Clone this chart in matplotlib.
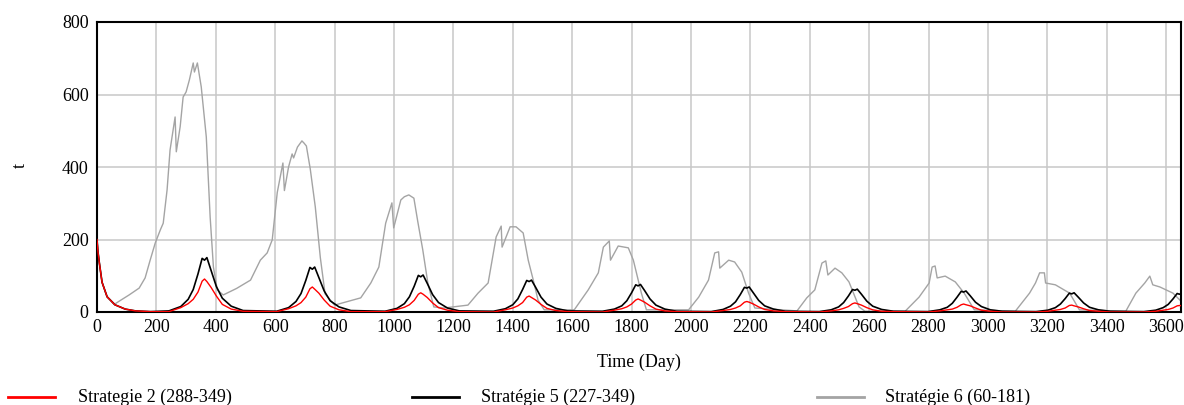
import matplotlib
matplotlib.use("Agg")
import matplotlib.pyplot as plt
from matplotlib.lines import Line2D

plt.rcParams["font.family"] = ["Liberation Serif", "DejaVu Serif"]

# Strategy 2 (288-349)
s2_days = [0, 3, 8, 17, 34, 60, 95, 130, 180,
           242, 282, 307, 324, 340, 354, 362, 370, 384, 402, 422, 452, 492,
           605, 645, 670, 687, 703, 717, 725, 733, 747, 765, 785, 815, 855,
           970, 1010, 1035, 1052, 1068, 1082, 1090, 1098, 1112, 1130, 1150, 1180, 1220,
           1335, 1375, 1400, 1417, 1433, 1447, 1455, 1463, 1477, 1495, 1515, 1545, 1585,
           1702, 1742, 1767, 1784, 1800, 1814, 1822, 1830, 1844, 1862, 1882, 1912, 1952,
           2068, 2108, 2133, 2150, 2166, 2180, 2188, 2196, 2210, 2228, 2248, 2278, 2318,
           2432, 2472, 2497, 2514, 2530, 2544, 2552, 2560, 2574, 2592, 2612, 2642, 2682,
           2798, 2838, 2863, 2880, 2896, 2910, 2918, 2926, 2940, 2958, 2978, 3008, 3048,
           3162, 3202, 3227, 3244, 3260, 3274, 3282, 3290, 3304, 3322, 3342, 3372, 3412,
           3525, 3565, 3590, 3607, 3623, 3637, 3645, 3653]
s2_vals = [200, 168, 135, 82, 42, 20, 8, 3, 1,
           1, 12, 23, 35, 55, 85, 91, 84, 68, 44, 21, 8, 2,
           1, 9, 17, 26, 41, 64, 69, 63, 52, 33, 16, 6, 1,
           1, 7, 13, 20, 32, 49, 53, 49, 40, 25, 12, 5, 1,
           0, 6, 11, 17, 26, 41, 44, 40, 33, 21, 10, 4, 1,
           0, 5, 9, 14, 22, 33, 36, 33, 27, 17, 8, 3, 1,
           0, 4, 7, 11, 17, 27, 29, 27, 22, 14, 7, 3, 1,
           0, 3, 6, 10, 15, 23, 25, 23, 19, 12, 6, 2, 1,
           0, 3, 6, 8, 13, 20, 22, 20, 17, 11, 5, 2, 0,
           0, 2, 5, 7, 11, 18, 19, 17, 14, 9, 4, 2, 0,
           0, 2, 5, 7, 11, 17, 18, 17]

# Strategy 5 (227-349)
s5_days = [0, 3, 8, 17, 34, 60, 95, 130, 180,
           242, 282, 307, 324, 340, 354, 362, 370, 384, 402, 422, 452, 492,
           605, 645, 670, 687, 703, 717, 725, 733, 747, 765, 785, 815, 855,
           970, 1010, 1035, 1052, 1068, 1082, 1090, 1098, 1112, 1130, 1150, 1180, 1220,
           1335, 1375, 1400, 1417, 1433, 1447, 1455, 1463, 1477, 1495, 1515, 1545, 1585,
           1702, 1742, 1767, 1784, 1800, 1814, 1822, 1830, 1844, 1862, 1882, 1912, 1952,
           2068, 2108, 2133, 2150, 2166, 2180, 2188, 2196, 2210, 2228, 2248, 2278, 2318,
           2432, 2472, 2497, 2514, 2530, 2544, 2552, 2560, 2574, 2592, 2612, 2642, 2682,
           2798, 2838, 2863, 2880, 2896, 2910, 2918, 2926, 2940, 2958, 2978, 3008, 3048,
           3162, 3202, 3227, 3244, 3260, 3274, 3282, 3290, 3304, 3322, 3342, 3372, 3412,
           3525, 3565, 3590, 3607, 3623, 3637, 3645, 3653]
s5_vals = [200, 168, 135, 82, 42, 20, 8, 3, 1,
           3, 15, 35, 62, 105, 148, 143, 150, 115, 70, 38, 16, 4,
           2, 12, 29, 51, 87, 123, 118, 124, 95, 58, 31, 14, 4,
           2, 10, 23, 42, 71, 101, 97, 102, 79, 48, 26, 11, 3,
           2, 9, 20, 36, 62, 87, 84, 88, 68, 41, 22, 10, 3,
           2, 8, 17, 31, 53, 75, 72, 76, 59, 36, 19, 8, 2,
           1, 7, 16, 28, 48, 68, 66, 69, 53, 32, 17, 8, 2,
           1, 6, 14, 26, 44, 62, 60, 63, 49, 30, 16, 7, 2,
           1, 6, 13, 24, 41, 57, 55, 58, 45, 27, 15, 6, 2,
           1, 5, 12, 22, 37, 52, 50, 53, 41, 25, 13, 6, 2,
           1, 5, 12, 21, 36, 51, 49, 52]

# Strategy 6 (60-181)
s6_days = [0, 3, 8, 17, 34, 60, 75, 108, 142, 162, 179, 196, 213, 223, 236, 246,
           263, 267, 280, 290, 300, 311, 324, 328, 338, 351, 368, 381, 392, 405, 425,
           470, 517, 550, 573, 590, 607, 626, 631, 645, 657, 662, 675, 690, 697, 705,
           718, 735, 752, 768, 800,
           888, 922, 949, 972, 993, 999, 1023, 1035, 1050, 1067, 1080, 1097, 1114, 1134,
           1168, 1249, 1283, 1317, 1344, 1361, 1364, 1391, 1411, 1435, 1452, 1469, 1485, 1506,
           1607, 1654, 1688, 1705, 1725, 1729, 1755, 1789, 1806, 1833, 1850,
           1992, 2026, 2059, 2080, 2093, 2097, 2127, 2147, 2171, 2194, 2215,
           2357, 2390, 2417, 2441, 2454, 2461, 2485, 2508, 2532, 2566, 2586,
           2721, 2768, 2802, 2812, 2822, 2829, 2856, 2890, 2920, 2954,
           3092, 3140, 3160, 3174, 3190, 3194, 3227, 3275, 3308,
           3464, 3498, 3528, 3545, 3555, 3579, 3623, 3656]
s6_vals = [200, 168, 135, 82, 42, 22, 30, 47, 66, 94, 143, 190, 226, 245, 337, 447,
           538, 442, 511, 593, 607, 640, 687, 662, 687, 621, 483, 262, 124, 61, 47,
           65, 88, 143, 163, 199, 330, 411, 335, 400, 436, 425, 455, 472, 466, 458,
           395, 290, 150, 50, 19,
           39, 80, 124, 245, 301, 232, 309, 318, 323, 314, 250, 171, 80, 14,
           11, 19, 52, 80, 207, 237, 179, 235, 235, 218, 143, 88, 33, 6,
           6, 61, 108, 179, 196, 143, 182, 177, 143, 52, 6,
           6, 41, 88, 163, 166, 121, 143, 138, 110, 52, 11,
           3, 39, 61, 135, 141, 102, 121, 108, 83, 14, 2,
           2, 41, 80, 124, 127, 94, 99, 83, 52, 6,
           2, 52, 80, 108, 108, 80, 75, 52, 6,
           2, 52, 80, 99, 75, 69, 52, 25]

labels = ["Strategie 2 (288-349)", "Stratégie 5 (227-349)", "Stratégie 6 (60-181)"]
colors = ["#ff0000", "#000000", "#a4a4a4"]
x_ticks = list(range(0, 3601, 200))
y_ticks = [0, 200, 400, 600, 800]

W, H = 1184, 405
fig = plt.figure(figsize=(W / 100, H / 100), dpi=100)
ax = fig.add_axes([97 / W, 1 - 312 / H, (1181 - 97) / W, (312 - 22) / H])

ax.plot(s6_days, s6_vals, color=colors[2], lw=1.0, zorder=2)
ax.plot(s5_days, s5_vals, color=colors[1], lw=1.2, zorder=3)
ax.plot(s2_days, s2_vals, color=colors[0], lw=1.0, zorder=4)

ax.set_xlim(0, 3650)
ax.set_ylim(0, 800)
ax.set_xticks(x_ticks)
ax.set_yticks(y_ticks)
ax.tick_params(length=0, labelsize=13, pad=6)
ax.tick_params(axis="x", pad=5)
ax.grid(True, color="#c8c8c8", lw=1.1)
ax.set_axisbelow(True)
for sp in ax.spines.values():
    sp.set_linewidth(1.5)
    sp.set_color("black")

ax.set_xlabel("Time (Day)", fontsize=13, labelpad=13)
fig.text(20 / W, 1 - 165 / H, "t", fontsize=13, rotation=90, ha="center", va="center")

# Legend row below the axes
leg_y = 1 - 397 / H
for (x0, x1, xt), lab, col in zip([(8, 55, 78), (412, 459, 481), (817, 864, 885)], labels, colors):
    fig.add_artist(Line2D([x0 / W, x1 / W], [leg_y, leg_y], color=col, lw=2.0,
                          transform=fig.transFigure))
    fig.text(xt / W, leg_y, lab, fontsize=13, ha="left", va="center")

fig.savefig("out.png", dpi=100)
